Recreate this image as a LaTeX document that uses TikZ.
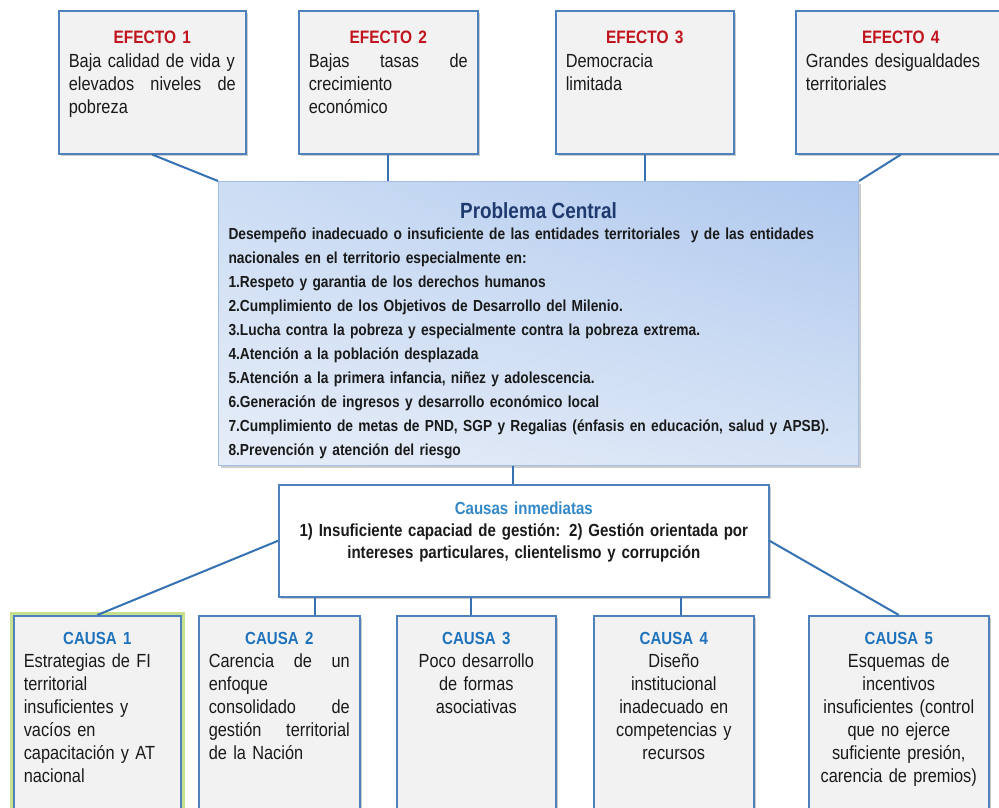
\documentclass[tikz,border=0pt]{standalone}
\usepackage{fontspec}
\setmainfont{Liberation Sans}[FakeStretch=0.86, WordSpace=0.7]
\usepackage{xcolor}
\usetikzlibrary{shadows,shadings}
\definecolor{boxblue}{HTML}{4F81BD}
\definecolor{boxgray}{HTML}{F2F2F2}
\definecolor{linkblue}{HTML}{3672B2}
\definecolor{effred}{HTML}{C0141E}
\definecolor{causeblue}{HTML}{1F72BC}
\definecolor{inmblue}{HTML}{3388C8}
\definecolor{navy}{HTML}{1F3A6E}
\definecolor{cenline}{HTML}{A3BEE4}
\definecolor{cenUL}{HTML}{CCDDF4}
\definecolor{cenUR}{HTML}{AFC8EE}
\definecolor{cenLL}{HTML}{E6EDF8}
\definecolor{cenLR}{HTML}{D6E3F5}
\definecolor{glowgreen}{HTML}{C6E08E}
\definecolor{ink}{HTML}{1A1A1A}
\newcommand\bodyfont{\fontsize{19}{23}\selectfont}
\newcommand\cenfont{\bfseries\fontsize{16}{24}\selectfont}
\newcommand\effhead[1]{\makebox[\linewidth]{\bfseries\fontsize{18}{20}\selectfont\color{effred}#1}}
\newcommand\causehead[1]{\makebox[\linewidth]{\bfseries\fontsize{17.5}{20}\selectfont\color{causeblue}#1}}
\tikzset{
  box/.style={draw=boxblue, line width=1.6pt, fill=boxgray, anchor=north west,
    inner xsep=10pt, inner ysep=4pt, text=ink,
    drop shadow={shadow xshift=2pt, shadow yshift=-2.5pt, opacity=0.4}},
  effbox/.style={box, align=left, text height=29pt, text depth=106pt, font=\bodyfont},
  causebox/.style={box, text height=25pt, text depth=192pt, font=\bodyfont},
  glow/.style={preaction={draw=glowgreen, line width=8pt}},
  link/.style={draw=linkblue, line width=2pt}
}
\begin{document}
\begin{tikzpicture}[x=1pt,y=-1pt]
\fill[white] (0,0) rectangle (999,807);
\useasboundingbox (0,0) rectangle (999,807);
\clip (0,0) rectangle (999,807);

% efectos
\node[effbox, text width=167pt] (e1) at (58,10)
  {\effhead{EFECTO 1}\\[1pt]
   Baja calidad de vida y\\
   elevados\hfill niveles\hfill de\\
   pobreza};
\node[effbox, text width=159pt] (e2) at (298,10)
  {\effhead{EFECTO 2}\\[1pt]
   Bajas\hfill tasas\hfill de\\
   crecimiento\\
   económico};
\node[effbox, text width=158pt] (e3) at (555,10)
  {\effhead{EFECTO 3}\\[1pt]
   Democracia\\
   limitada};
\node[effbox, text width=190pt] (e4) at (795,10)
  {\effhead{EFECTO 4}\\[1pt]
   Grandes desigualdades\\
   territoriales};

% problema central
\node[box, draw=cenline, line width=1pt, upper left=cenUL, upper right=cenUR,
  lower left=cenLL, lower right=cenLR, align=left, text width=620pt,
  text height=33pt, text depth=243pt, font=\cenfont] (cen) at (218,181)
  {\makebox[\linewidth]{\fontsize{22}{24}\selectfont\color{navy}Problema Central}\\[-3pt]
   Desempeño inadecuado o insuficiente de las entidades territoriales\ \ y de las entidades\\
   nacionales en el territorio especialmente en:\\
   1.Respeto y garantia de los derechos humanos\\
   2.Cumplimiento de los Objetivos de Desarrollo del Milenio.\\
   3.Lucha contra la pobreza y especialmente contra la pobreza extrema.\\
   4.Atención a la población desplazada\\
   5.Atención a la primera infancia, niñez y adolescencia.\\
   6.Generación de ingresos y desarrollo económico local\\
   7.Cumplimiento de metas de PND, SGP y Regalias (énfasis en educación, salud y APSB).\\
   8.Prevención y atención del riesgo};

% causas inmediatas
\node[box, fill=white, align=center, text width=470pt, text height=26pt, text depth=78pt,
  font=\bfseries\fontsize{17.5}{22}\selectfont] (cau) at (278,484)
  {{\color{inmblue}Causas inmediatas}\\
   1) Insuficiente capaciad de gestión: 2) Gestión orientada por\\
   intereses particulares, clientelismo y corrupción};

% causas
\node[causebox, glow, align=left, text width=147pt] (c1) at (13,615)
  {\causehead{CAUSA 1}\\
   Estrategias de FI\\
   territorial\\
   insuficientes y\\
   vacíos en\\
   capacitación y AT\\
   nacional};
\node[causebox, align=left, text width=141pt] (c2) at (198,615)
  {\causehead{CAUSA 2}\\
   Carencia\hfill de\hfill un\\
   enfoque\\
   consolidado\hfill de\\
   gestión\hfill territorial\\
   de la Nación};
\node[causebox, align=center, text width=139pt] (c3) at (396,615)
  {\causehead{CAUSA 3}\\
   Poco desarrollo\\
   de formas\\
   asociativas};
\node[causebox, align=center, text width=140pt] (c4) at (593,615)
  {\causehead{CAUSA 4}\\
   Diseño\\
   institucional\\
   inadecuado en\\
   competencias y\\
   recursos};
\node[causebox, align=center, text width=160pt] (c5) at (808,615)
  {\causehead{CAUSA 5}\\
   Esquemas de\\
   incentivos\\
   insuficientes (control\\
   que no ejerce\\
   suficiente presión,\\
   carencia de premios)};

% conectores
\draw[link] (e1.south) -- (cen.north west);
\draw[link] (e2.south) -- (e2.south |- cen.north);
\draw[link] (e3.south) -- (e3.south |- cen.north);
\draw[link] (e4.south) -- (cen.north east);
\draw[link] ([xshift=-26pt]cen.south) -- ([xshift=-26pt]cen.south |- cau.north);
\draw[link] (cau.west) -- (c1.north);
\draw[link] (cau.east) -- (c5.north);
\draw[link] ([xshift=37pt]cau.south west) -- ([xshift=37pt]cau.south west |- c2.north);
\draw[link] ([xshift=-5pt]c3.north |- cau.south) -- ([xshift=-5pt]c3.north);
\draw[link] ([xshift=7pt]c4.north |- cau.south) -- ([xshift=7pt]c4.north);
\end{tikzpicture}
\end{document}
